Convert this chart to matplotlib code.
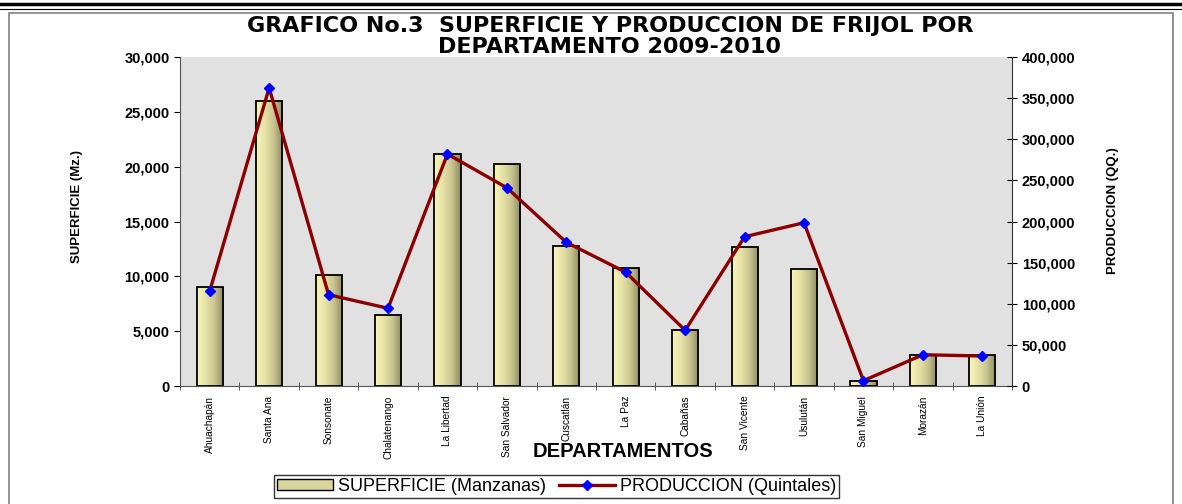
import matplotlib
matplotlib.use("Agg")
import matplotlib.pyplot as plt
import numpy as np
from matplotlib.colors import LinearSegmentedColormap
from matplotlib.patches import Rectangle
from matplotlib.lines import Line2D
from matplotlib.ticker import FuncFormatter, MultipleLocator

departamentos = ['Ahuachapán', 'Santa Ana', 'Sonsonate', 'Chalatenango', 'La Libertad',
                 'San Salvador', 'Cuscatlán', 'La Paz', 'Cabañas', 'San Vicente',
                 'Usulután', 'San Miguel', 'Morazán', 'La Unión']
superficie = [9000, 26000, 10100, 6500, 21150, 20200, 12750, 10750, 5150, 12700,
              10650, 500, 2800, 2800]
produccion = [115500, 362500, 111000, 94500, 282000, 241000, 174700, 138300, 67700,
              181500, 198500, 6500, 38000, 36500]

titulo = 'GRAFICO No.3  SUPERFICIE Y PRODUCCION DE FRIJOL POR\nDEPARTAMENTO 2009-2010'

plt.rcParams['font.family'] = ['Liberation Sans', 'DejaVu Sans']

fig = plt.figure(figsize=(11.82, 5.04), dpi=100)

# page-like frame lines
fig.add_artist(Line2D([0, 1], [0.993, 0.993], color='black', lw=2.5))
fig.add_artist(Line2D([0, 1], [0.983, 0.983], color='black', lw=0.8))
fig.add_artist(Rectangle((0.008, -0.01), 0.984, 0.985, fill=False, ec='#808080', lw=1.2,
                         transform=fig.transFigure))

ax = fig.add_axes([0.1523, 0.2341, 0.7039, 0.6528])
ax.set_facecolor('#e1e1e1')
x = np.arange(len(departamentos))
w = 0.44

# bars with horizontal gradient like excel
cmap = LinearSegmentedColormap.from_list('bar', ['#f8f6bc', '#e6e2a6', '#c8c48e', '#8d8a64'])
grad = np.linspace(0, 1, 64).reshape(1, -1)
for xi, h in zip(x, superficie):
    ax.imshow(grad, cmap=cmap, extent=[xi - w / 2, xi + w / 2, 0, h], aspect='auto',
              zorder=2, interpolation='bilinear')
    ax.add_patch(Rectangle((xi - w / 2, 0), w, h, fill=False, ec='black', lw=1.3, zorder=3))

ax.set_xlim(-0.5, len(departamentos) - 0.5)
ax.set_ylim(0, 30000)
ax.yaxis.set_major_locator(MultipleLocator(5000))
ax.yaxis.set_major_formatter(FuncFormatter(lambda v, p: f'{int(v):,}'))
ax.set_xticks(x)
ax.set_xticklabels(departamentos, rotation=90, fontsize=7.3)
ax.set_xticks(np.arange(len(departamentos) + 1) - 0.5, minor=True)
ax.tick_params(axis='x', which='major', length=0, pad=7)
ax.tick_params(axis='x', which='minor', length=6, direction='inout', color='#444444')
ax.tick_params(axis='y', length=4, direction='out', labelsize=10.5)
for lab in ax.get_yticklabels():
    lab.set_fontweight('bold')
for s in ['top', 'right']:
    ax.spines[s].set_visible(False)
ax.spines['left'].set_color('#555555')
ax.spines['bottom'].set_color('#555555')

ax.set_ylabel('SUPERFICIE (Mz.)', fontsize=9.5, fontweight='bold')
ax.yaxis.set_label_coords(-0.1166, 0.547)

ax2 = ax.twinx()
ax2.plot(x, produccion, color='#8b0000', lw=2.4, marker='D', markersize=5.5,
         markerfacecolor='#0000ff', markeredgecolor='#0000ff', zorder=5)
ax2.set_ylim(0, 400000)
ax2.yaxis.set_major_locator(MultipleLocator(50000))
ax2.yaxis.set_major_formatter(FuncFormatter(lambda v, p: f'{int(v):,}'))
ax2.tick_params(axis='y', length=7, direction='inout', labelsize=10.5)
for lab in ax2.get_yticklabels():
    lab.set_fontweight('bold')
for s in ['top', 'left', 'bottom']:
    ax2.spines[s].set_visible(False)
ax2.spines['right'].set_color('#333333')
ax2.set_ylabel('PRODUCCION (QQ.)', fontsize=9.5, fontweight='bold')
ax2.yaxis.set_label_coords(1.114, 0.532)

fig.text(0.527, 0.105, 'DEPARTAMENTOS', ha='center', va='center', fontsize=14.5,
         fontweight='bold')

fig.text(0.516, 0.928, titulo, ha='center', va='center', fontsize=16, fontweight='bold',
         family='DejaVu Sans', linespacing=1.08)

handles = [Rectangle((0, 0), 1, 1, fc='#d9d59c', ec='black', lw=1),
           Line2D([], [], color='#8b0000', lw=2.4, marker='D', markersize=5.5,
                  markerfacecolor='#0000ff', markeredgecolor='#0000ff')]
leg = fig.legend(handles, ['SUPERFICIE (Manzanas)', 'PRODUCCION (Quintales)'],
                 loc='center', bbox_to_anchor=(0.471, 0.035), ncol=2, fontsize=13,
                 frameon=True, fancybox=False, edgecolor='black', borderpad=0.15,
                 handlelength=3.1, handleheight=0.5, handletextpad=0.3, columnspacing=0.7)
leg.get_frame().set_linewidth(1.0)

fig.savefig('out.png', dpi=100)
